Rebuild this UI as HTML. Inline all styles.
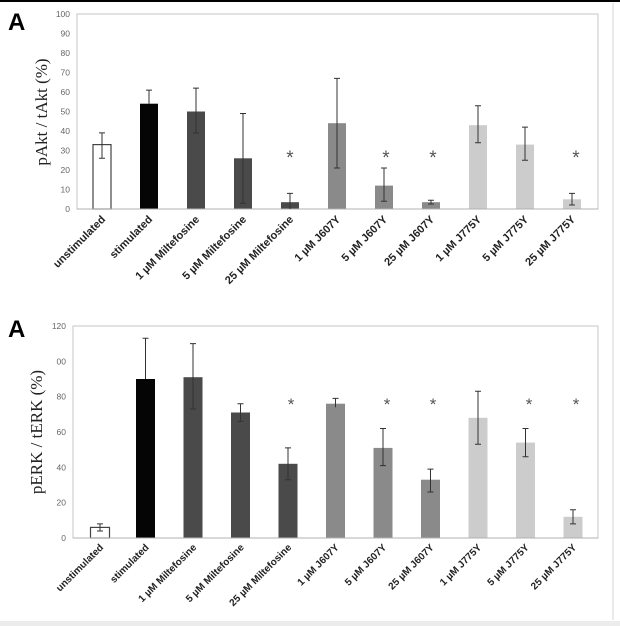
<!DOCTYPE html>
<html><head><style>body{margin:0;background:#fff}svg{display:block}</style></head><body>
<svg width="620" height="626" viewBox="0 0 620 626" xmlns="http://www.w3.org/2000/svg" font-family="Liberation Sans, sans-serif">
<rect width="620" height="626" fill="#fff"/>
<line x1="0" y1="1" x2="620" y2="1" stroke="#000" stroke-width="2"/>
<line x1="613" y1="3" x2="613" y2="620" stroke="#e4e4e4" stroke-width="1.5"/>
<rect x="0" y="621" width="620" height="5" fill="#ececec"/>

<!-- TOP CHART -->
<text x="8" y="30" font-size="24" font-weight="bold">A</text>
<rect x="77" y="14" width="521" height="195" fill="none" stroke="#c4c4c4" stroke-width="1"/>
<g font-size="8.5" fill="#666" text-anchor="end">
<text x="70" y="212">0</text><text x="70" y="192.5">10</text><text x="70" y="173">20</text><text x="70" y="153.5">30</text><text x="70" y="134">40</text><text x="70" y="114.5">50</text><text x="70" y="95">60</text><text x="70" y="75.5">70</text><text x="70" y="56">80</text><text x="70" y="36.5">90</text><text x="70" y="17">100</text>
</g>
<text transform="translate(47,112) rotate(-90)" text-anchor="middle" font-family="Liberation Serif, serif" font-size="17" fill="#222">pAkt / tAkt  (%)</text>
<g stroke="none">
<rect x="93" y="144.6" width="18" height="64.4" fill="#fff" stroke="#444" stroke-width="1.2"/>
<rect x="140" y="103.7" width="18" height="105.3" fill="#050505"/>
<rect x="187" y="111.5" width="18" height="97.5" fill="#4a4a4a"/>
<rect x="234" y="158.3" width="18" height="50.7" fill="#4a4a4a"/>
<rect x="281" y="202.2" width="18" height="6.8" fill="#4a4a4a"/>
<rect x="328" y="123.2" width="18" height="85.8" fill="#8a8a8a"/>
<rect x="375" y="185.6" width="18" height="23.4" fill="#8a8a8a"/>
<rect x="422" y="202.2" width="18" height="6.8" fill="#8a8a8a"/>
<rect x="469" y="125.2" width="18" height="83.8" fill="#cccccc"/>
<rect x="516" y="144.6" width="18" height="64.4" fill="#cccccc"/>
<rect x="563" y="199.3" width="18" height="9.7" fill="#cccccc"/>
</g>
<line x1="77" y1="209" x2="598" y2="209" stroke="#b0b0b0"/>
<g stroke="#333" stroke-width="1">
<path d="M102 158.3V132.9M99 132.9h6M99 158.3h6"/>
<path d="M149 103.7V90.1M146 90.1h6"/>
<path d="M196 133V88.1M193 88.1h6M193 133h6"/>
<path d="M243 203.2V113.5M240 113.5h6M240 203.2h6"/>
<path d="M290 209V193.4M287 193.4h6"/>
<path d="M337 168V78.4M334 78.4h6M334 168h6"/>
<path d="M384 201.2V168M381 168h6M381 201.2h6"/>
<path d="M431 204V200.2M428 200.2h6M428 204h6"/>
<path d="M478 142.7V105.7M475 105.7h6M475 142.7h6"/>
<path d="M525 160.2V127.1M522 127.1h6M522 160.2h6"/>
<path d="M572 205V193.4M569 193.4h6M569 205h6"/>
</g>
<g font-size="19" fill="#555" text-anchor="middle">
<text x="290" y="164">*</text><text x="386" y="164">*</text><text x="433" y="164">*</text><text x="576" y="164">*</text>
</g>
<g font-size="11" font-weight="bold" fill="#222" text-anchor="end">
<text transform="translate(106,220) rotate(-45)">unstimulated</text>
<text transform="translate(153,220) rotate(-45)">stimulated</text>
<text transform="translate(200,220) rotate(-45)">1 µM Miltefosine</text>
<text transform="translate(247,220) rotate(-45)">5 µM Miltefosine</text>
<text transform="translate(294,220) rotate(-45)">25 µM Miltefosine</text>
<text transform="translate(341,220) rotate(-45)">1 µM J607Y</text>
<text transform="translate(388,220) rotate(-45)">5 µM J607Y</text>
<text transform="translate(435,220) rotate(-45)">25 µM J607Y</text>
<text transform="translate(482,220) rotate(-45)">1 µM J775Y</text>
<text transform="translate(529,220) rotate(-45)">5 µM J775Y</text>
<text transform="translate(576,220) rotate(-45)">25 µM J775Y</text>
</g>

<!-- BOTTOM CHART -->
<text x="8" y="337" font-size="24" font-weight="bold">A</text>
<rect x="73" y="326" width="525" height="212" fill="none" stroke="#c4c4c4" stroke-width="1"/>
<g font-size="8.5" fill="#666" text-anchor="end">
<text x="66" y="541">0</text><text x="66" y="505.7">20</text><text x="66" y="470.3">40</text><text x="66" y="435">60</text><text x="66" y="399.7">80</text><text x="66" y="364.3">00</text><text x="66" y="329">120</text>
</g>
<text transform="translate(42,432) rotate(-90)" text-anchor="middle" font-family="Liberation Serif, serif" font-size="17" fill="#222">pERK / tERK  (%)</text>
<g>
<rect x="90.5" y="527.4" width="19" height="10.6" fill="#fff" stroke="#444" stroke-width="1.2"/>
<rect x="136" y="379" width="19" height="159" fill="#050505"/>
<rect x="183.5" y="377.2" width="19" height="160.8" fill="#4a4a4a"/>
<rect x="231" y="412.5" width="19" height="125.5" fill="#4a4a4a"/>
<rect x="278.5" y="463.8" width="19" height="74.2" fill="#4a4a4a"/>
<rect x="326" y="403.7" width="19" height="134.3" fill="#8a8a8a"/>
<rect x="373.5" y="447.9" width="19" height="90.1" fill="#8a8a8a"/>
<rect x="421" y="479.7" width="19" height="58.3" fill="#8a8a8a"/>
<rect x="468.5" y="417.8" width="19" height="120.2" fill="#cccccc"/>
<rect x="516" y="442.6" width="19" height="95.4" fill="#cccccc"/>
<rect x="563.5" y="516.8" width="19" height="21.2" fill="#cccccc"/>
</g>
<line x1="73" y1="538" x2="598" y2="538" stroke="#b0b0b0"/>
<g stroke="#333" stroke-width="1">
<path d="M100 531V523.9M97 523.9h6M97 531h6"/>
<path d="M145.5 379V338.3M142.5 338.3h6"/>
<path d="M193 409V343.6M190 343.6h6M190 409h6"/>
<path d="M240.5 421.4V403.7M237.5 403.7h6M237.5 421.4h6"/>
<path d="M288 479.7V447.9M285 447.9h6M285 479.7h6"/>
<path d="M335.5 407.2V398.4M332.5 398.4h6"/>
<path d="M383 465.6V428.5M380 428.5h6M380 465.6h6"/>
<path d="M430.5 492V469.1M427.5 469.1h6M427.5 492h6"/>
<path d="M478 444.3V391.3M475 391.3h6M475 444.3h6"/>
<path d="M525.5 456.7V428.5M522.5 428.5h6M522.5 456.7h6"/>
<path d="M573 523.9V509.7M570 509.7h6M570 523.9h6"/>
</g>
<g font-size="17" fill="#555" text-anchor="middle">
<text x="291" y="410">*</text><text x="387" y="410">*</text><text x="433" y="410">*</text><text x="529" y="410">*</text><text x="576" y="410">*</text>
</g>
<g font-size="10" font-weight="bold" fill="#222" text-anchor="end">
<text transform="translate(104,548) rotate(-45)">unstimulated</text>
<text transform="translate(149.5,548) rotate(-45)">stimulated</text>
<text transform="translate(197,548) rotate(-45)">1 µM Miltefosine</text>
<text transform="translate(244.5,548) rotate(-45)">5 µM Miltefosine</text>
<text transform="translate(292,548) rotate(-45)">25 µM Miltefosine</text>
<text transform="translate(339.5,548) rotate(-45)">1 µM J607Y</text>
<text transform="translate(387,548) rotate(-45)">5 µM J607Y</text>
<text transform="translate(434.5,548) rotate(-45)">25 µM J607Y</text>
<text transform="translate(482,548) rotate(-45)">1 µM J775Y</text>
<text transform="translate(529.5,548) rotate(-45)">5 µM J775Y</text>
<text transform="translate(577,548) rotate(-45)">25 µM J775Y</text>
</g>
</svg>
</body></html>
